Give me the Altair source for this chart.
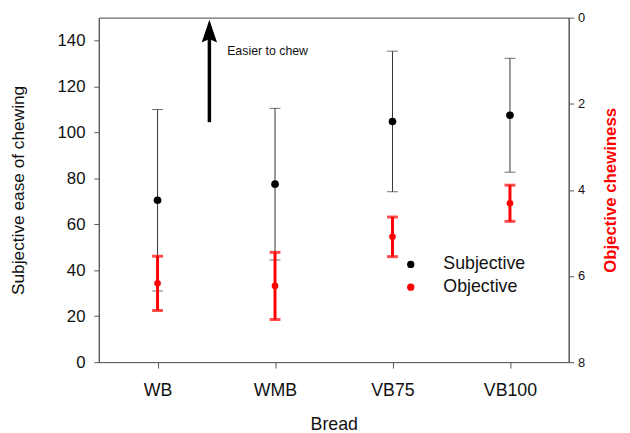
import altair as alt
import pandas as pd

breads = ["WB", "WMB", "VB75", "VB100"]
subj_mean = [70.5, 77.5, 104.8, 107.5]
subj_err = [39.5, 33.0, 30.6, 24.8]
obj_mean = [6.17, 6.23, 5.09, 4.31]
obj_err = [0.63, 0.78, 0.46, 0.42]
series = ["Subjective", "Objective"]
note_text = ["Easier to chew"]
arrow_from = [104.5]
arrow_to = [142.0]
arrow_head = [143.0]
note_y = [135.5]

subj = pd.DataFrame({
    "bread": breads, "mean": subj_mean,
    "lo": [m - e for m, e in zip(subj_mean, subj_err)],
    "hi": [m + e for m, e in zip(subj_mean, subj_err)],
    "series": "Subjective",
})
obj = pd.DataFrame({
    "bread": breads, "mean": obj_mean,
    "lo": [m - e for m, e in zip(obj_mean, obj_err)],
    "hi": [m + e for m, e in zip(obj_mean, obj_err)],
    "series": "Objective",
})

FONT = "Liberation Sans"

x_enc = alt.X("bread:N", sort=breads,
              scale=alt.Scale(type="point", padding=0.5),
              axis=alt.Axis(title="Bread", labelAngle=0, labelFontSize=18,
                            titleFontSize=18, titleFontWeight="normal",
                            labelPadding=14, titlePadding=16, tickSize=6,
                            domain=False))

ls = alt.Scale(domain=[0, 150], nice=False, zero=True)
la = alt.Axis(title="Subjective ease of chewing", values=list(range(0, 141, 20)),
              labelFontSize=17, titleFontSize=17.5, titleFontWeight="normal",
              tickSize=5, labelPadding=9, titlePadding=30, grid=False)

rs = alt.Scale(domain=[0, 8], nice=False, reverse=True)
ra = alt.Axis(orient="right", title="Objective chewiness", values=[0, 2, 4, 6, 8],
              labelFontSize=13, titleFontSize=17, titleFontWeight="bold",
              titleColor="red", titleAngle=270, titleBaseline="top",
              tickSize=5, labelPadding=4, titlePadding=18, grid=False)

color = alt.Color("series:N", scale=alt.Scale(domain=series, range=["black", "red"]),
                  legend=alt.Legend(title=None, orient="none", legendX=307, legendY=241,
                                    labelFontSize=18, symbolType="circle", symbolSize=55,
                                    symbolStrokeWidth=0, labelOffset=24, rowPadding=5,
                                    padding=0, labelColor="#111"))

base_s = alt.Chart(subj)
rule_s = base_s.mark_rule(color="#333", strokeWidth=1).encode(
    x=x_enc, y=alt.Y("lo:Q", scale=ls, axis=la), y2="hi:Q")
caplo_s = base_s.mark_tick(color="#333", thickness=1, size=11).encode(
    x=x_enc, y=alt.Y("lo:Q", scale=ls, axis=la))
caphi_s = base_s.mark_tick(color="#333", thickness=1, size=11).encode(
    x=x_enc, y=alt.Y("hi:Q", scale=ls, axis=la))
pt_s = base_s.mark_circle(size=60, opacity=1).encode(
    x=x_enc, y=alt.Y("mean:Q", scale=ls, axis=la), color=color)

ann = pd.DataFrame({"y": arrow_from, "y2": arrow_to, "head": arrow_head,
                    "ny": note_y, "text": note_text})
shaft = alt.Chart(ann).mark_rule(color="black", strokeWidth=3.5).encode(
    x=alt.value(112), y=alt.Y("y:Q", scale=ls, axis=la), y2="y2:Q")
head = alt.Chart(ann).mark_point(
    shape="M0,-1L0.55,0.62L0,0.38L-0.55,0.62Z", filled=True, color="black",
    size=800, opacity=1).encode(x=alt.value(112), y=alt.Y("head:Q", scale=ls, axis=la))
note = alt.Chart(ann).mark_text(align="left", baseline="middle", fontSize=12.5,
                                font=FONT, color="#111").encode(
    x=alt.value(130), y=alt.Y("ny:Q", scale=ls, axis=la), text="text:N")

left = alt.layer(rule_s, caplo_s, caphi_s, pt_s, shaft, head, note)

base_o = alt.Chart(obj)
rule_o = base_o.mark_rule(color="red", strokeWidth=3).encode(
    x=x_enc, y=alt.Y("lo:Q", scale=rs, axis=ra), y2="hi:Q")
caplo_o = base_o.mark_tick(color="red", thickness=3, size=11).encode(
    x=x_enc, y=alt.Y("lo:Q", scale=rs, axis=ra))
caphi_o = base_o.mark_tick(color="red", thickness=3, size=11).encode(
    x=x_enc, y=alt.Y("hi:Q", scale=rs, axis=ra))
pt_o = base_o.mark_circle(size=45, opacity=1).encode(
    x=x_enc, y=alt.Y("mean:Q", scale=rs, axis=ra), color=color)

right = alt.layer(rule_o, caplo_o, caphi_o, pt_o)

chart = alt.layer(left, right).resolve_scale(y="independent").properties(
    width=476, height=349,
    autosize=alt.AutoSizeParams(type="none"),
    padding={"left": 92, "top": 7, "right": 54, "bottom": 69},
).configure(font=FONT).configure_view(
    stroke="#444", strokeWidth=1
).configure_axis(
    domainColor="#555", tickColor="#555", labelColor="#111", titleColor="#111",
    labelFont=FONT, titleFont=FONT
)

chart.save("out.html", embed_options={"renderer": "svg", "actions": False})
